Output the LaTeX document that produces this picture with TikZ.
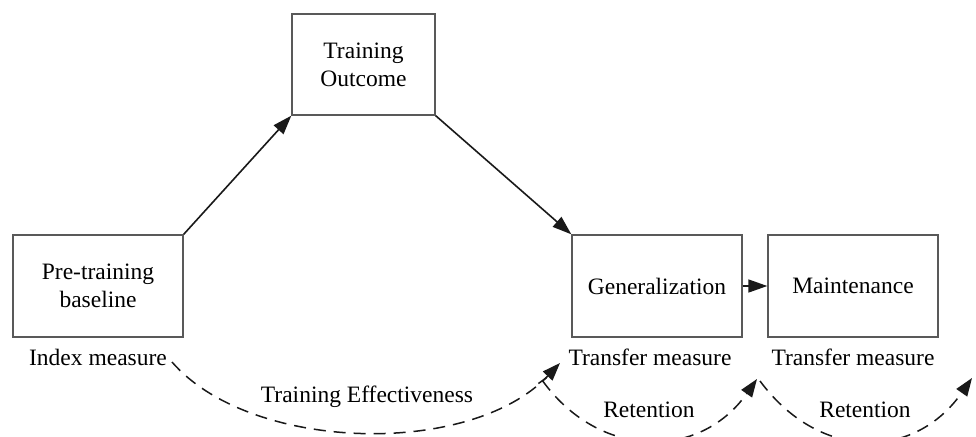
\documentclass[tikz,border=0pt]{standalone}
\usepackage{fontspec}
\setmainfont{Liberation Serif}
\usetikzlibrary{arrows.meta}
\begin{document}
\begin{tikzpicture}[x=1pt,y=-1pt,
  font=\fontsize{23.5}{28}\selectfont,
  box/.style={draw=black!65,line width=1.4pt,inner sep=0pt,align=center},
  lbl/.style={inner sep=0pt,anchor=center},
  arr/.style={-{Triangle[length=19pt,width=13pt]},line width=1.6pt,black!90},
  darr/.style={-{Triangle[length=18pt,width=13pt]},line width=1.5pt,dash pattern=on 12pt off 8pt,black!90}]
\useasboundingbox (0,0) rectangle (976,436);
\clip (0,0) rectangle (976,436);
\node[box,minimum width=170pt,minimum height=102pt] (pre) at (98,286) {Pre-training\\baseline};
\node[box,minimum width=143pt,minimum height=101pt] (out) at (363.5,64.5) {Training\\Outcome};
\node[box,minimum width=170pt,minimum height=102pt] (gen) at (657,286) {Generalization};
\node[box,minimum width=170pt,minimum height=102pt] (mai) at (853,286) {Maintenance};
\node[lbl] (im) at (98,357) {Index measure};
\node[lbl] (tm1) at (650,357) {Transfer measure};
\node[lbl] (tm2) at (853,357) {Transfer measure};
\coordinate (c1s) at (172,362);
\coordinate (c1e) at (560,363);
\coordinate (c2s) at (542,380);
\coordinate (c2e) at (757,379);
\coordinate (c3s) at (760,381);
\coordinate (c3e) at (972,378);
\draw[arr] (pre.north east) -- (out.south west);
\draw[arr] (out.south east) -- (gen.north west);
\draw[arr] (gen.east) -- (mai.west);
\draw[darr] (c1s) .. controls (250,452) and (470,458) .. (c1e);
\draw[darr,{Bar[width=10pt]}-{Triangle[length=18pt,width=13pt]}] (c2s) .. controls (600,460) and (700,460) .. (c2e);
\draw[darr] (c3s) .. controls (820,462) and (915,460) .. (c3e);
\node[lbl] (te) at (367,397) {Training Effectiveness};
\node[lbl] (r1) at (649,410) {Retention};
\node[lbl] (r2) at (865,410) {Retention};
\end{tikzpicture}
\end{document}
